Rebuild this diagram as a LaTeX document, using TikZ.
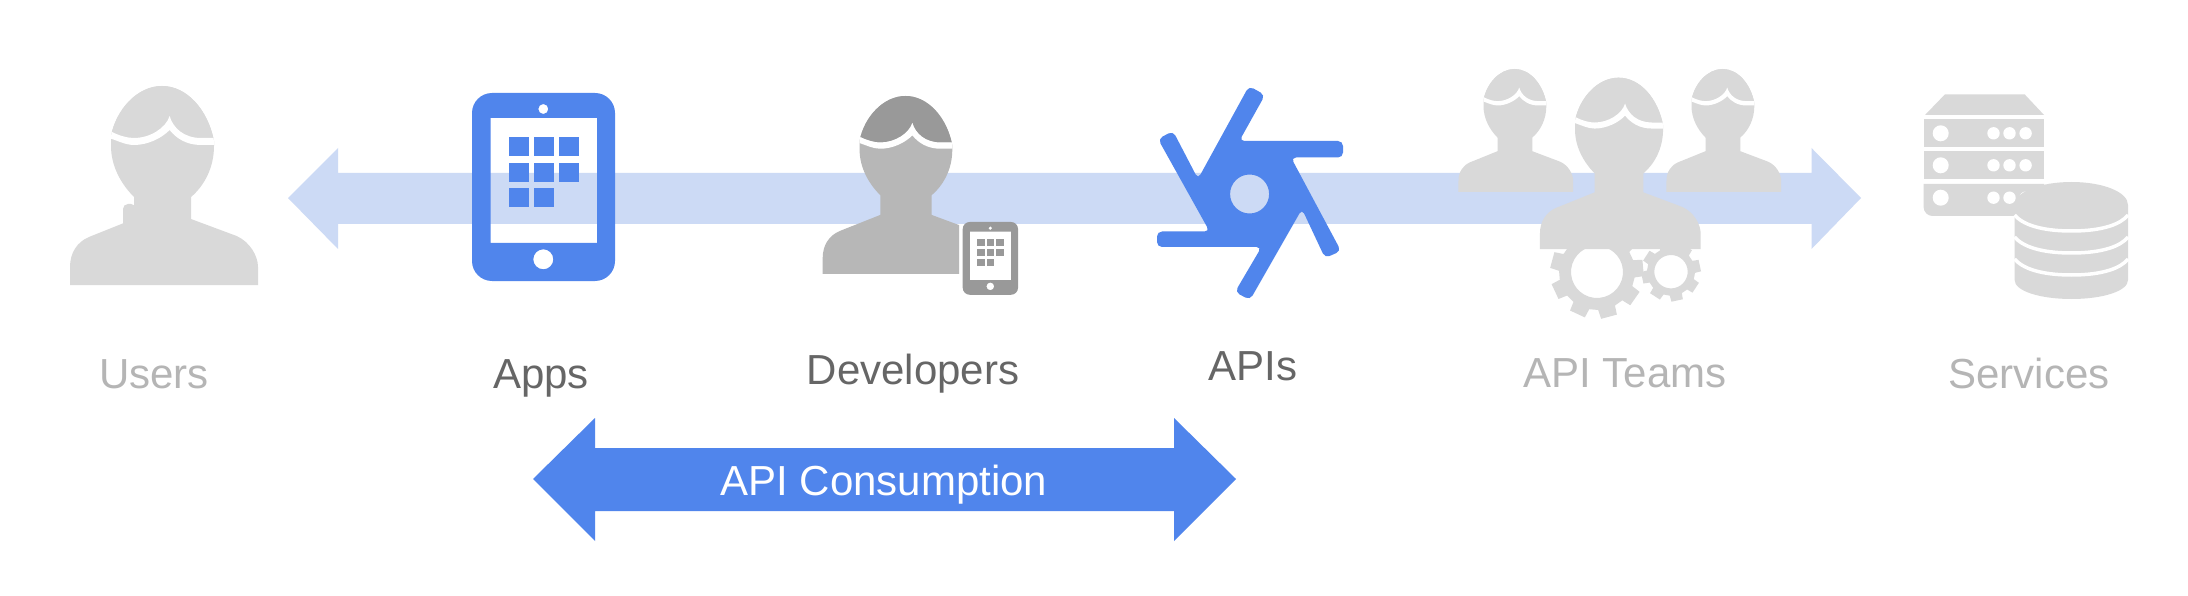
\documentclass[tikz,border=0pt]{standalone}
\usepackage{fontspec}
\setmainfont{Liberation Sans}
\definecolor{band}{HTML}{CCDAF5}
\definecolor{apiblue}{HTML}{5085EC}
\definecolor{lightgr}{HTML}{D9D9D9}
\definecolor{midgr}{HTML}{B7B7B7}
\definecolor{darkgr}{HTML}{999999}
\definecolor{labelfade}{HTML}{B5B5B5}
\definecolor{labeldark}{HTML}{666666}
\tikzset{
  lab/.style={anchor=base,inner sep=0pt,font=\fontsize{42}{50}\selectfont},
  fadedlab/.style={lab,text=labelfade},
  darklab/.style={lab,text=labeldark}
}
% silhouette path, origin at top of the head
\newcommand{\silhouette}{
  (0,0) .. controls (25,0) and (46,24) .. (52,55)
  -- (52,60) .. controls (52,82) and (42,100) .. (29,111)
  -- (29,133) -- (74.6,150) .. controls (88,156) and (96,170) .. (96,181)
  -- (96,199) -- (-92,199) -- (-92,181) .. controls (-92,167) and (-85,156) .. (-73,151)
  -- (-28,133) -- (-28,111) .. controls (-41,98) and (-51,80) .. (-51,60)
  -- (-51,50) .. controls (-46,24) and (-25,0) .. (0,0) -- cycle}
\newcommand{\drawperson}[6]{%
  \begin{scope}[shift={(#1,#2)},xscale=#3,yscale=#4]
    \fill[#5] \silhouette;
    \begin{scope}
      \clip \silhouette;
      \fill[#6] (-60,-5) -- (60,-5) -- (60,52) -- (39,52)
        .. controls (22,52) and (11,42) .. (7.6,30)
        .. controls (4,42) and (-12,52) .. (-28,52)
        .. controls (-34,52) and (-42,50) .. (-50,46) -- (-60,43) -- cycle;
      \fill[white] (-60,43) -- (-50,46) .. controls (-42,50) and (-34,52) .. (-28,52)
        .. controls (-12,52) and (4,42) .. (7.6,30)
        .. controls (11,42) and (22,52) .. (39,52) -- (60,52)
        -- (60,59) -- (39,59) .. controls (24,59) and (14,52) .. (7.6,44)
        .. controls (0,52) and (-14,59) .. (-28,59)
        .. controls (-36,59) and (-44,55) .. (-50,53) -- (-60,50) -- cycle;
    \end{scope}
  \end{scope}}
% x, y, scale, corner radius, colour
\newcommand{\drawtablet}[5]{%
  \begin{scope}[shift={(#1,#2)},scale=#3]
    \fill[#5,even odd rule,rounded corners=#4pt] (0,0) rectangle (143,188)
      [sharp corners] (18.6,25) rectangle (125,150)
      (71.3,16) circle[radius=5] (71.3,166.3) circle[radius=10];
    \foreach \gx/\gy in {37/44,62/44,87/44,37/70,62/70,87/70,37/95,62/95}
      \fill[#5] (\gx,\gy) rectangle ++(19.6,19);
  \end{scope}}
% cx, cy, outer, inner, hole, teeth, rotation
\newcommand{\drawgear}[7]{%
  \begin{scope}[shift={(#1,#2)},rotate=#7]
    \pgfmathsetmacro{\gstep}{360/#6}
    \pgfmathsetmacro{\gw}{\gstep*0.33}
    \pgfmathsetmacro{\gv}{\gstep*0.25}
    \fill[lightgr,even odd rule] (-\gw:#4)
      \foreach \ti in {1,...,#6} {
        -- ({(\ti-1)*\gstep-\gv}:#3) -- ({(\ti-1)*\gstep+\gv}:#3)
        -- ({(\ti-1)*\gstep+\gw}:#4) -- ({\ti*\gstep-\gw}:#4)
      } -- cycle
      (0,0) circle[radius=#5];
  \end{scope}}
\begin{document}
\begin{tikzpicture}[x=1pt,y=-1pt]
\useasboundingbox (0,0) rectangle (2188,596);
\fill[white] (0,0) rectangle (2188,596);

% long pale double arrow
\fill[band] (288,198) -- (338,148) -- (338,173) -- (1811.5,173) -- (1811.5,148)
  -- (1861,198) -- (1811.5,249) -- (1811.5,224) -- (338,224) -- (338,249) -- cycle;

% Users
\fill[lightgr,rounded corners=5pt] (123,228) -- (123,204) -- (136,204) -- (136,228) -- cycle;
\drawperson{162}{86}{1}{1}{lightgr}{lightgr}
% Apps
\drawtablet{472}{93}{1}{20}{apiblue}
% Developers
\begin{scope}
  \clip (800,80) rectangle (959,300);
  \drawperson{905.5}{96}{0.9}{0.894}{midgr}{darkgr}
\end{scope}
\drawtablet{962.7}{222}{0.387}{7}{darkgr}
% APIs
\fill[apiblue,even odd rule,rounded corners=5pt]
  (1249,86) -- (1265,95) -- (1239.3,141) -- (1343,141) -- (1343,157.5) -- (1291,157.5)
  -- (1341,251) -- (1325,258) -- (1302,209) -- (1250,300) -- (1235,292) -- (1261.5,247)
  -- (1157,247) -- (1157,231.5) -- (1209.6,231.5) -- (1158,139) -- (1173,131) -- (1198,179) -- cycle
  [sharp corners] (1249.6,194) circle[radius=19.5];
% API Teams
\drawgear{1597}{272}{47}{38}{26}{9}{5}
\drawgear{1671}{271.7}{30}{24}{16.7}{8}{12}
\drawperson{1514.6}{69}{0.61}{0.618}{lightgr}{lightgr}
\drawperson{1722.6}{69}{0.61}{0.618}{lightgr}{lightgr}
\drawperson{1618.6}{77.7}{0.855}{0.862}{lightgr}{lightgr}
% Services
\fill[lightgr] (1945,94.3) -- (2024.6,94.3) -- (2044,115) -- (1925,115) -- cycle;
\fill[lightgr] (1923.6,119) rectangle (2044,146.7);
\fill[lightgr] (1923.6,151.3) rectangle (2044,179.3);
\fill[lightgr,rounded corners=9pt] (1923.6,184) [sharp corners] -- (2044,184) -- (2044,216) [rounded corners=9pt] -- (1923.6,216) [sharp corners] -- cycle;
\foreach \ry in {133.3,165.3,197.7} {
  \fill[white] (1940.7,\ry) circle[radius=8];
  \foreach \rx in {1993.5,2009.5,2025.6}
    \fill[white] (\rx,\ry) circle[radius=6.2];
}
\fill[lightgr] (2014.6,205) .. controls (2014.6,192) and (2040,182) .. (2071.4,182)
  .. controls (2103,182) and (2128,192) .. (2128,205)
  -- (2128,280) .. controls (2128,291) and (2103,299) .. (2071.4,299)
  .. controls (2040,299) and (2014.6,291) .. (2014.6,280) -- cycle;
\foreach \by in {215,237,259}
  \draw[white,line width=3.5pt] (2014.6,\by) .. controls (2022,\by+9) and (2040,\by+16) .. (2071.4,\by+16)
    .. controls (2103,\by+16) and (2121,\by+9) .. (2128,\by);

% labels
\node[fadedlab] (users) at (154,388) {Users};
\node[darklab] (apps) at (541,388) {Apps};
\node[darklab] (developers) at (913,384) {Developers};
\node[darklab] (apis) at (1253,380) {APIs};
\node[fadedlab] (teams) at (1625,387) {API Teams};
\node[fadedlab] (services) at (2029,388) {Services};

% API Consumption arrow
\fill[apiblue] (533,479) -- (595,418) -- (595,448) -- (1174,448) -- (1174,418)
  -- (1236,479) -- (1174,541) -- (1174,511) -- (595,511) -- (595,541) -- cycle;
\node[lab,text=white] (consumption) at (884,495) {API Consumption};
\end{tikzpicture}
\end{document}
